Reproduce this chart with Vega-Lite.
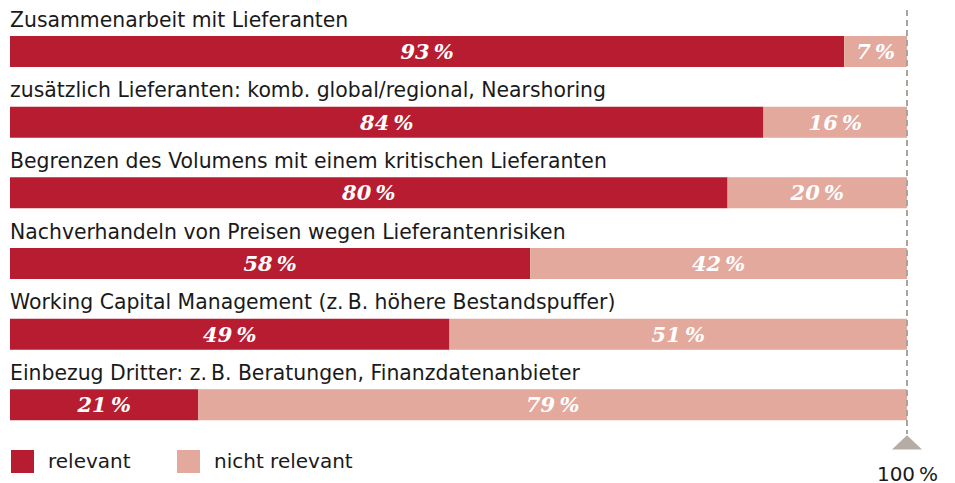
{
  "$schema": "https://vega.github.io/schema/vega-lite/v6.json",
  "width": 897,
  "height": 424,
  "autosize": {"type": "none"},
  "padding": {"left": 10, "top": 10, "right": 48, "bottom": 49},
  "config": {"view": {"stroke": null}},
  "data": {
    "values": [
      {"q": "Zusammenarbeit mit Lieferanten", "cat": "relevant", "v": 93},
      {"q": "Zusammenarbeit mit Lieferanten", "cat": "nicht relevant", "v": 7},
      {"q": "zusätzlich Lieferanten: komb. global/regional, Nearshoring", "cat": "relevant", "v": 84},
      {"q": "zusätzlich Lieferanten: komb. global/regional, Nearshoring", "cat": "nicht relevant", "v": 16},
      {"q": "Begrenzen des Volumens mit einem kritischen Lieferanten", "cat": "relevant", "v": 80},
      {"q": "Begrenzen des Volumens mit einem kritischen Lieferanten", "cat": "nicht relevant", "v": 20},
      {"q": "Nachverhandeln von Preisen wegen Lieferantenrisiken", "cat": "relevant", "v": 58},
      {"q": "Nachverhandeln von Preisen wegen Lieferantenrisiken", "cat": "nicht relevant", "v": 42},
      {"q": "Working Capital Management (z.\u2009B. höhere Bestandspuffer)", "cat": "relevant", "v": 49},
      {"q": "Working Capital Management (z.\u2009B. höhere Bestandspuffer)", "cat": "nicht relevant", "v": 51},
      {"q": "Einbezug Dritter: z.\u2009B. Beratungen, Finanzdatenanbieter", "cat": "relevant", "v": 21},
      {"q": "Einbezug Dritter: z.\u2009B. Beratungen, Finanzdatenanbieter", "cat": "nicht relevant", "v": 79}
    ]
  },
  "encoding": {
    "y": {"field": "q", "type": "nominal", "sort": null, "axis": null,
          "scale": {"paddingInner": 0, "paddingOuter": 0}}
  },
  "layer": [
    {
      "mark": {"type": "bar", "height": 31, "yOffset": 6.2},
      "encoding": {
        "x": {"field": "v", "type": "quantitative", "stack": "zero",
              "scale": {"domain": [0, 100], "nice": false},
              "axis": {"values": [100], "labelExpr": "'100\u202f%'", "grid": false, "domain": false,
                       "ticks": false, "tickSize": 0, "labelFont": "DejaVu Sans", "labelFontSize": 20,
                       "labelColor": "#1a1a1a", "labelBaseline": "alphabetic", "labelPadding": 46,
                       "labelFlush": false, "labelBound": false, "labelOverlap": false, "title": null}},
        "color": {"field": "cat", "type": "nominal",
                  "scale": {"domain": ["relevant", "nicht relevant"], "range": ["#b81c31", "#e3a99c"]},
                  "legend": {"orient": "none", "legendX": 1, "legendY": 440, "direction": "horizontal",
                             "title": null, "symbolType": "square", "symbolSize": 529, "symbolStrokeWidth": 0,
                             "symbolOpacity": 1, "labelFont": "DejaVu Sans", "labelFontSize": 20,
                             "labelColor": "#1a1a1a", "labelOffset": 14, "columnPadding": 46, "padding": 0}},
        "order": {"field": "cat", "sort": "descending"}
      }
    },
    {
      "transform": [{"calculate": "datum.v + '\u202f%'", "as": "lab"}],
      "mark": {"type": "text", "color": "white", "font": "DejaVu Serif", "fontStyle": "italic",
               "fontWeight": "bold", "fontSize": 21, "baseline": "alphabetic", "yOffset": 13.5, "align": "center"},
      "encoding": {
        "x": {"field": "v", "type": "quantitative", "stack": "zero", "bandPosition": 0.5},
        "text": {"field": "lab"},
        "detail": {"field": "cat"},
        "order": {"field": "cat", "sort": "descending"}
      }
    },
    {
      "transform": [{"filter": "datum.cat == 'relevant'"}],
      "mark": {"type": "text", "font": "DejaVu Sans", "fontSize": 20.4, "color": "#1a1a1a",
               "align": "left", "baseline": "alphabetic", "yOffset": -18.6},
      "encoding": {
        "x": {"datum": 0},
        "text": {"field": "q"}
      }
    },
    {
      "mark": {"type": "rule", "color": "#aaa49d", "strokeWidth": 2, "strokeDash": [6, 4]},
      "encoding": {"x": {"datum": 100}, "y": null}
    },
    {
      "transform": [{"filter": "datum.cat == 'relevant'"}, {"window": [{"op": "row_number", "as": "r"}]}, {"filter": "datum.r == 6"}],
      "mark": {"type": "point", "shape": "M-1,0.47L1,0.47L0,-0.47Z", "size": 900, "filled": true,
               "color": "#b5ada5", "opacity": 1, "strokeWidth": 0, "yOffset": 43.7},
      "encoding": {"x": {"datum": 100}}
    }
  ]
}
